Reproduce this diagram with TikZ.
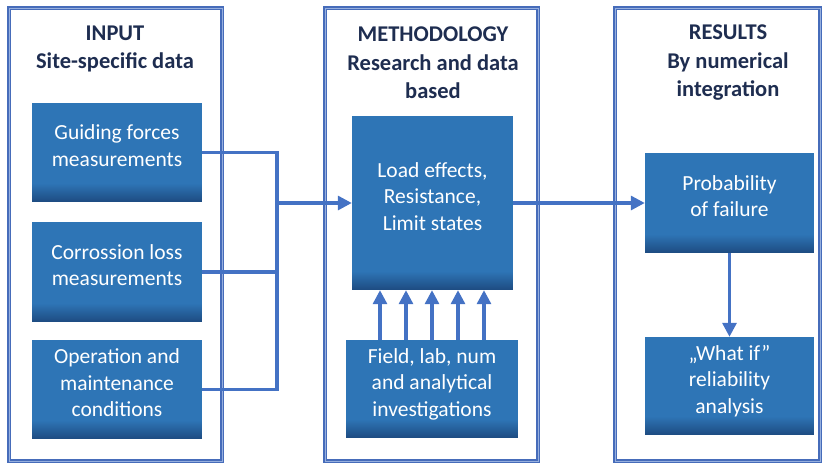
\documentclass[tikz,border=0pt]{standalone}
\usepackage{fontspec}
\setmainfont{Carlito}
\usetikzlibrary{arrows.meta}
\definecolor{frameblue}{RGB}{70,108,186}
\definecolor{framelight}{RGB}{150,175,222}
\definecolor{boxblue}{RGB}{46,117,182}
\definecolor{boxdark}{RGB}{28,72,125}
\definecolor{arrowblue}{RGB}{68,114,196}
\definecolor{headnavy}{RGB}{30,45,80}
\newcommand\upx{\\[-13pt]\mbox{}}
\tikzset{
  panel/.style={draw=frameblue, line width=4pt},
  panelinner/.style={draw=framelight, line width=1pt},
  bluebox/.style={rectangle, fill=boxblue, text=white, align=center, inner sep=0pt,
    font=\fontsize{21.5}{26.5}\selectfont,
    path picture={
      \foreach \i in {1,...,18}{
        \pgfmathtruncatemacro{\p}{100*(19-\i)/18*0.9}
        \fill[boxdark!\p!boxblue]
          ([yshift=\i pt-1pt]path picture bounding box.south west)
          rectangle ([yshift=\i pt]path picture bounding box.south east);
      }}},
  head/.style={text=headnavy, align=center, font=\bfseries\fontsize{22.5}{28.5}\selectfont, inner sep=0pt},
  conn/.style={draw=arrowblue, line width=3.2pt},
  arr/.style={conn, -{Triangle[length=14pt,width=14pt]}},
}
\begin{document}
\begin{tikzpicture}[x=1pt,y=-1pt]
\useasboundingbox (0,0) rectangle (823,464);
% panels
\draw[panel] (9,8) rectangle (222,461);
\draw[panelinner] (9,8) rectangle (222,461);
\draw[panel] (325,8) rectangle (538,461);
\draw[panelinner] (325,8) rectangle (538,461);
\draw[panel] (615,8) rectangle (820,461);
\draw[panelinner] (615,8) rectangle (820,461);
% headings
\node[head] (h1) at (115,49) {INPUT\\Site-specific data};
\node[head] (h2) at (433,63) {METHODOLOGY\\Research and data\\based};
\node[head] (h3) at (728,63) {RESULTS\\By numerical\\integration};
% input boxes
\node[bluebox, minimum width=170pt, minimum height=99pt] (b1) at (117,152.5) {Guiding forces\\measurements\upx};
\node[bluebox, minimum width=170pt, minimum height=100pt] (b2) at (117,272) {Corrossion loss\\measurements\upx};
\node[bluebox, minimum width=170pt, minimum height=99pt] (b3) at (117,389.5) {Operation and\\maintenance\\conditions\upx};
% methodology boxes
\node[bluebox, minimum width=161pt, minimum height=174pt] (m1) at (432.5,203) {Load effects,\\Resistance,\\Limit states\upx};
\node[bluebox, minimum width=172pt, minimum height=98pt] (m2) at (432,389) {Field, lab, num\\and analytical\\investigations\upx};
% results boxes
\node[bluebox, minimum width=169pt, minimum height=100pt] (p1) at (729.5,203) {Probability\\of failure\upx};
\node[bluebox, minimum width=169pt, minimum height=98pt] (w1) at (729.5,386) {\char"201E What if\char"201D\\reliability\\analysis\upx};
% connectors
\coordinate (j) at (277,203);
\draw[conn] (b1.east) -| (j);
\draw[conn] (b3.east) -| (j);
\draw[conn] (b2.east) -- (b2.east -| j);
\draw[arr] (j) -- (m1.west);
\draw[arr] (m1.east) -- (p1.west);
\draw[arr] (p1.south) -- (w1.north);
\foreach \d in {-52,-26,0,26,52}
  \draw[arr] ([xshift=\d pt]m2.north) -- ([xshift=\d pt]m2.north |- m1.south);
\end{tikzpicture}
\end{document}
